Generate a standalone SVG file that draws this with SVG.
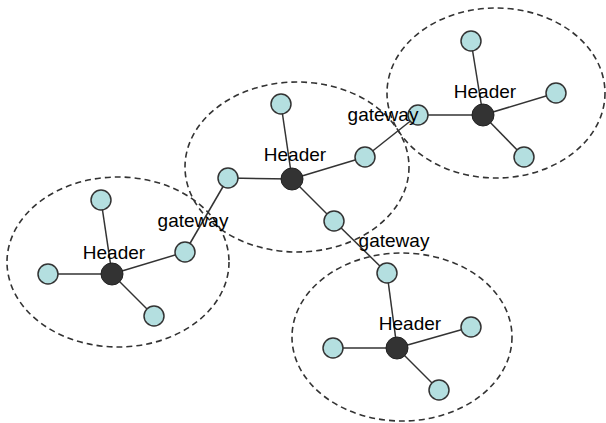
<svg xmlns="http://www.w3.org/2000/svg" width="606" height="423" viewBox="0 0 606 423">
<style>
.cluster{fill:none;stroke:#333;stroke-width:1.6;stroke-dasharray:6 4}
.edge{stroke:#333;stroke-width:1.5;fill:none}
.node{fill:#b4dfe0;stroke:#333;stroke-width:1.5}
.head{fill:#333;stroke:#222;stroke-width:1}
text{font-family:"Liberation Sans",Arial,sans-serif;font-size:19px;fill:#000;text-anchor:middle}
</style>
<rect width="606" height="423" fill="#fff"/>
<g id="clusters">
<ellipse class="cluster" cx="118" cy="262" rx="111" ry="85"/>
<ellipse class="cluster" cx="297" cy="167" rx="112" ry="85"/>
<ellipse class="cluster" cx="496" cy="93" rx="109" ry="85"/>
<ellipse class="cluster" cx="402" cy="337" rx="110" ry="84"/>
</g>
<g id="connectors">
<line class="edge" x1="112" y1="274" x2="101" y2="200"/>
<line class="edge" x1="112" y1="274" x2="48" y2="274"/>
<line class="edge" x1="112" y1="274" x2="154" y2="316"/>
<line class="edge" x1="112" y1="274" x2="185" y2="252"/>
<line class="edge" x1="185" y1="252" x2="228" y2="178"/>
<line class="edge" x1="292" y1="179" x2="281" y2="104"/>
<line class="edge" x1="292" y1="179" x2="228" y2="178"/>
<line class="edge" x1="292" y1="179" x2="365" y2="157"/>
<line class="edge" x1="292" y1="179" x2="334" y2="221"/>
<line class="edge" x1="365" y1="157" x2="418" y2="115"/>
<line class="edge" x1="334" y1="221" x2="387" y2="273"/>
<line class="edge" x1="483" y1="115" x2="471" y2="41"/>
<line class="edge" x1="483" y1="115" x2="418" y2="115"/>
<line class="edge" x1="483" y1="115" x2="556" y2="93"/>
<line class="edge" x1="483" y1="115" x2="524" y2="157"/>
<line class="edge" x1="397" y1="348" x2="387" y2="273"/>
<line class="edge" x1="397" y1="348" x2="333" y2="348"/>
<line class="edge" x1="397" y1="348" x2="471" y2="327"/>
<line class="edge" x1="397" y1="348" x2="439" y2="390"/>
</g>
<g id="cluster1">
<circle id="h1" class="head" cx="112" cy="274" r="11"/>
<circle class="node" cx="101" cy="200" r="10"/>
<circle class="node" cx="48" cy="274" r="10"/>
<circle class="node" cx="154" cy="316" r="10"/>
<circle class="node" cx="185" cy="252" r="10"/>
<text x="114" y="259">Header</text>
</g>
<g id="cluster2">
<circle id="h2" class="head" cx="292" cy="179" r="11"/>
<circle class="node" cx="281" cy="104" r="10"/>
<circle class="node" cx="228" cy="178" r="10"/>
<circle class="node" cx="365" cy="157" r="10"/>
<circle class="node" cx="334" cy="221" r="10"/>
<text x="295" y="161">Header</text>
</g>
<g id="cluster3">
<circle id="h3" class="head" cx="483" cy="115" r="11"/>
<circle class="node" cx="471" cy="41" r="10"/>
<circle class="node" cx="418" cy="115" r="10"/>
<circle class="node" cx="556" cy="93" r="10"/>
<circle class="node" cx="524" cy="157" r="10"/>
<text x="485" y="98">Header</text>
</g>
<g id="cluster4">
<circle id="h4" class="head" cx="397" cy="348" r="11"/>
<circle class="node" cx="387" cy="273" r="10"/>
<circle class="node" cx="333" cy="348" r="10"/>
<circle class="node" cx="471" cy="327" r="10"/>
<circle class="node" cx="439" cy="390" r="10"/>
<text x="410" y="330">Header</text>
</g>
<g id="labels">
<text x="193" y="227">gateway</text>
<text x="383" y="121">gateway</text>
<text x="394" y="247">gateway</text>
</g>
</svg>
